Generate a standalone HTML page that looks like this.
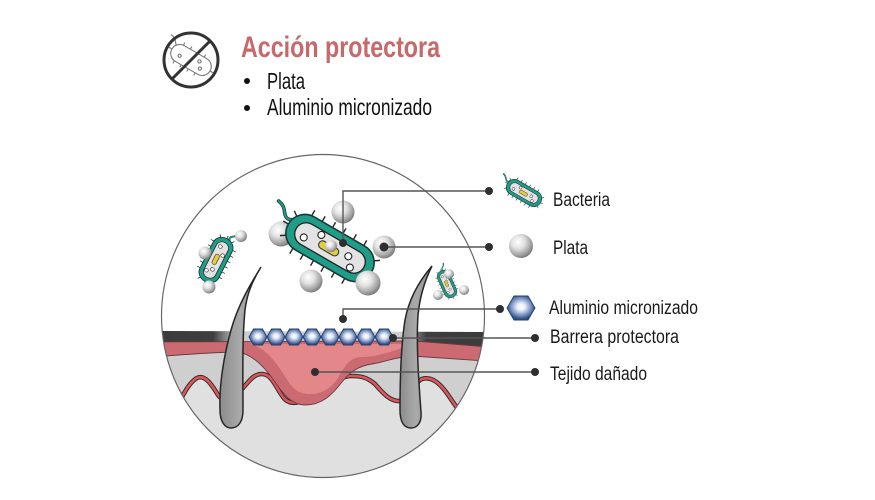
<!DOCTYPE html>
<html><head><meta charset="utf-8"><style>
html,body{margin:0;padding:0;background:#fff;}
svg{display:block;}
text{font-family:"Liberation Sans",sans-serif;}
</style></head><body>
<svg width="875" height="500" viewBox="0 0 875 500" xmlns="http://www.w3.org/2000/svg">
<defs>
  <clipPath id="cc"><circle cx="323" cy="316" r="161.5"/></clipPath>
  <radialGradient id="sph" cx="0.38" cy="0.34" r="0.68">
    <stop offset="0" stop-color="#ffffff"/>
    <stop offset="0.4" stop-color="#e2e2e2"/>
    <stop offset="0.8" stop-color="#a2a2a2"/>
    <stop offset="1" stop-color="#7a7a7a"/>
  </radialGradient>
  <radialGradient id="hexg" cx="0.5" cy="0.45" r="0.58">
    <stop offset="0" stop-color="#ffffff"/>
    <stop offset="0.25" stop-color="#e8eef8"/>
    <stop offset="0.6" stop-color="#7f96c2"/>
    <stop offset="0.85" stop-color="#36558b"/>
    <stop offset="1" stop-color="#223f70"/>
  </radialGradient>
  <linearGradient id="epi" gradientUnits="userSpaceOnUse" x1="150" y1="0" x2="500" y2="0">
    <stop offset="0" stop-color="#3a3a3a"/>
    <stop offset="0.18" stop-color="#3e3e3e"/>
    <stop offset="0.25" stop-color="#cdcdcd"/>
    <stop offset="0.72" stop-color="#cdcdcd"/>
    <stop offset="0.79" stop-color="#3e3e3e"/>
    <stop offset="1" stop-color="#3a3a3a"/>
  </linearGradient>
  <linearGradient id="hairg" x1="0" y1="0" x2="1" y2="0">
    <stop offset="0" stop-color="#8c8c8c"/>
    <stop offset="0.5" stop-color="#aaaaaa"/>
    <stop offset="1" stop-color="#8a8a8a"/>
  </linearGradient>
  <g id="bact">
    <path d="M -44,-8 C -50,-2 -54,-4 -57,-8 C -60,-12 -62,-14 -68,-15" fill="none" stroke="#1e3d38" stroke-width="3.6" stroke-linecap="round"/>
    <path d="M -44,-8 C -50,-2 -54,-4 -57,-8 C -60,-12 -62,-14 -68,-15" fill="none" stroke="#1f9d88" stroke-width="2" stroke-linecap="round"/>
    <g stroke="#222" stroke-width="1.4">
      <line x1="-32" y1="-19" x2="-32" y2="-25"/><line x1="-20" y1="-19" x2="-20" y2="-25"/>
      <line x1="-8" y1="-19" x2="-8" y2="-25"/><line x1="4" y1="-19" x2="4" y2="-25"/>
      <line x1="16" y1="-19" x2="16" y2="-25"/><line x1="28" y1="-19" x2="28" y2="-25"/>
      <line x1="-32" y1="19" x2="-32" y2="25"/><line x1="-20" y1="19" x2="-20" y2="25"/>
      <line x1="-8" y1="19" x2="-8" y2="25"/><line x1="4" y1="19" x2="4" y2="25"/>
      <line x1="16" y1="19" x2="16" y2="25"/><line x1="28" y1="19" x2="28" y2="25"/>
      <line x1="-48" y1="0" x2="-54" y2="0"/><line x1="-44.6" y1="10.9" x2="-49.5" y2="14.3"/>
      <line x1="-44.6" y1="-10.9" x2="-49.5" y2="-14.3"/>
      <line x1="48" y1="0" x2="54" y2="0"/><line x1="44.6" y1="10.9" x2="49.5" y2="14.3"/>
      <line x1="44.6" y1="-10.9" x2="49.5" y2="-14.3"/>
    </g>
    <rect x="-48" y="-19" width="96" height="38" rx="19" fill="#1f9d88" stroke="#1c3733" stroke-width="1.6"/>
    <rect x="-39" y="-11.5" width="78" height="23" rx="11.5" fill="#e3e3e3" stroke="#222" stroke-width="1.3"/>
    <rect x="-12" y="-3" width="22" height="8" rx="4" fill="#e5cd3a" stroke="#333" stroke-width="1.1"/>
    <g fill="#fff" stroke="#222" stroke-width="1.1">
      <circle cx="-28" cy="4" r="3.5"/><circle cx="-14" cy="-7" r="3.5"/>
      <circle cx="20" cy="-2" r="3.5"/><circle cx="27" cy="7" r="3.5"/>
    </g>
  </g>
</defs>

<!-- Header icon -->
<g transform="translate(191,60) rotate(30)" fill="none" stroke="#777" stroke-width="1.1">
  <rect x="-22" y="-9" width="44" height="18" rx="9"/>
  <line x1="-14" y1="-9" x2="-14" y2="-12"/><line x1="-6" y1="-9" x2="-6" y2="-12"/>
  <line x1="2" y1="-9" x2="2" y2="-12"/><line x1="10" y1="-9" x2="10" y2="-12"/>
  <line x1="-14" y1="9" x2="-14" y2="12"/><line x1="-6" y1="9" x2="-6" y2="12"/>
  <line x1="2" y1="9" x2="2" y2="12"/><line x1="10" y1="9" x2="10" y2="12"/>
  <line x1="-22" y1="0" x2="-26" y2="0"/><line x1="22" y1="0" x2="26" y2="0"/>
  <path d="M -20,-5 C -24,-10 -26,-12 -30,-12"/>
  <circle cx="-12" cy="2" r="1.6"/><circle cx="8" cy="-3" r="1.6"/><circle cx="12" cy="3" r="1.6"/>
</g>
<circle cx="191" cy="60" r="27" fill="none" stroke="#333" stroke-width="3"/>
<line x1="210" y1="41" x2="172" y2="79" stroke="#333" stroke-width="3"/>

<!-- Header text -->
<text x="241" y="57" font-size="30" font-weight="bold" fill="#c7696b" textLength="199" lengthAdjust="spacingAndGlyphs">Acción protectora</text>
<circle cx="247" cy="81" r="3" fill="#111"/>
<circle cx="247" cy="108" r="3" fill="#111"/>
<text x="267" y="89" font-size="23" fill="#111" textLength="38" lengthAdjust="spacingAndGlyphs">Plata</text>
<text x="267" y="115" font-size="23" fill="#111" textLength="165" lengthAdjust="spacingAndGlyphs">Aluminio micronizado</text>

<!-- Circle content -->
<g clip-path="url(#cc)">
  <rect x="150" y="150" width="350" height="340" fill="#fff"/>
  <rect x="150" y="342" width="350" height="150" fill="#cfcfcf"/>
  <path d="M 165,425 C 180,405 185,385 197,378 C 205,374 212,385 218,395 C 225,405 235,395 243,388 C 250,380 254,374 262,374 C 272,374 276,388 283,397 C 288,404 296,404 305,400 C 318,394 324,392 332,387 C 338,380 343,376 352,376 C 362,376 368,378 375,384 C 382,392 390,402 400,401 C 410,400 414,382 422,379 C 432,376 440,384 446,392 C 452,400 457,410 470,422 L 500,490 L 150,490 Z" fill="#e0e0e0"/>
  <path d="M 165,425 C 180,405 185,385 197,378 C 205,374 212,385 218,395 C 225,405 235,395 243,388 C 250,380 254,374 262,374 C 272,374 276,388 283,397 C 288,404 296,404 305,400 C 318,394 324,392 332,387 C 338,380 343,376 352,376 C 362,376 368,378 375,384 C 382,392 390,402 400,401 C 410,400 414,382 422,379 C 432,376 440,384 446,392 C 452,400 457,410 470,422" fill="none" stroke="#2f2f2f" stroke-width="4.6"/>
  <path d="M 165,425 C 180,405 185,385 197,378 C 205,374 212,385 218,395 C 225,405 235,395 243,388 C 250,380 254,374 262,374 C 272,374 276,388 283,397 C 288,404 296,404 305,400 C 318,394 324,392 332,387 C 338,380 343,376 352,376 C 362,376 368,378 375,384 C 382,392 390,402 400,401 C 410,400 414,382 422,379 C 432,376 440,384 446,392 C 452,400 457,410 470,422" fill="none" stroke="#e0555a" stroke-width="2.6"/>
  <!-- epidermis top band -->
  <path d="M150,331 L500,332 L500,348 L415,341 L150,342 Z" fill="url(#epi)"/>
  <!-- red band + damaged outer -->
  <path d="M 150,342 L 415,341 L 500,348 L 500,362 C 470,360 440,358 412,356 C 395,357 385,362 372,364 C 358,366 350,372 342,382 C 332,395 322,405 305,405 C 292,405 284,395 275,382 C 264,366 252,354 238,352 C 215,352 180,355 150,357 Z" fill="#cc6a71" stroke="#6a3b3f" stroke-width="0.9"/>
  <!-- damaged inner -->
  <path d="M 250,344 L 412,344 C 402,348 394,351 386,353 C 376,356 368,357 360,357 C 350,358 345,365 338,378 C 330,390 320,394 310,394 C 298,394 292,388 286,378 C 276,362 266,348 250,344 Z" fill="#e4878b"/>
  <!-- hexagons -->
  <g fill="url(#hexg)" stroke="#223f70" stroke-width="0.9">
    <polygon points="249,337 253.5,329 262.5,329 267,337 262.5,345 253.5,345"/>
    <polygon points="267,337 271.5,329 280.5,329 285,337 280.5,345 271.5,345"/>
    <polygon points="285,337 289.5,329 298.5,329 303,337 298.5,345 289.5,345"/>
    <polygon points="303,337 307.5,329 316.5,329 321,337 316.5,345 307.5,345"/>
    <polygon points="321,337 325.5,329 334.5,329 339,337 334.5,345 325.5,345"/>
    <polygon points="339,337 343.5,329 352.5,329 357,337 352.5,345 343.5,345"/>
    <polygon points="357,337 361.5,329 370.5,329 375,337 370.5,345 361.5,345"/>
    <polygon points="375,337 379.5,329 388.5,329 393,337 388.5,345 379.5,345"/>
  </g>
  <!-- hairs -->
  <path d="M 261,267 C 250,285 238,305 231,330 C 224,355 219,385 220,410 C 220,422 225,428 231,428 C 238,428 243,422 243,410 C 243,380 242,340 245,310 C 247,293 253,280 261,267 Z" fill="url(#hairg)" stroke="#262626" stroke-width="1.5"/>
  <path d="M 432,266 C 425,280 420,295 418,315 C 416,345 419,385 421,412 C 422,423 417,428 411,428 C 404,428 400,422 400,410 C 400,380 401,345 405,320 C 409,298 420,280 432,266 Z" fill="url(#hairg)" stroke="#262626" stroke-width="1.5"/>

  <!-- small bacteria -->
  <use href="#bact" transform="translate(216,260) rotate(117) scale(0.5,0.56)"/>
  <circle cx="241" cy="236" r="6" fill="url(#sph)"/>
  <circle cx="205" cy="253" r="6.5" fill="url(#sph)"/>
  <circle cx="209" cy="287" r="6.5" fill="url(#sph)"/>
  <use href="#bact" transform="translate(447,284) rotate(66) scale(0.3,0.34)"/>
  <circle cx="449" cy="274" r="5" fill="url(#sph)"/>
  <circle cx="438" cy="295" r="5" fill="url(#sph)"/>
  <circle cx="464" cy="290" r="5" fill="url(#sph)"/>

  <!-- big bacterium + spheres -->
  <circle cx="343" cy="212" r="11.5" fill="url(#sph)"/>
  <circle cx="281" cy="234" r="12.5" fill="url(#sph)"/>
  <use href="#bact" transform="translate(330,248) rotate(30)"/>
  <circle cx="331" cy="246" r="6" fill="url(#sph)"/>
  <circle cx="311" cy="281" r="11.5" fill="url(#sph)"/>
  <circle cx="368" cy="283" r="12.5" fill="url(#sph)"/>
  <circle cx="384" cy="247" r="11.5" fill="url(#sph)"/>
</g>
<circle cx="323" cy="316" r="161.5" fill="none" stroke="#666" stroke-width="1.2"/>

<!-- connectors -->
<g stroke="#555" stroke-width="1.4" fill="none">
  <polyline points="343,243 343,191 489,191"/>
  <line x1="384" y1="247" x2="489" y2="247"/>
  <polyline points="343,319 343,309 500,309"/>
  <line x1="393" y1="338" x2="535" y2="338"/>
  <line x1="315" y1="372" x2="535" y2="372"/>
</g>
<g fill="#2f2f2f">
  <circle cx="343" cy="243" r="4"/><circle cx="489" cy="191" r="4"/>
  <circle cx="384" cy="247" r="4.5"/><circle cx="489" cy="247" r="4"/>
  <circle cx="343" cy="319" r="4"/><circle cx="500" cy="309" r="4"/>
  <circle cx="393" cy="338" r="4"/><circle cx="535" cy="338" r="4"/>
  <circle cx="315" cy="372" r="4"/><circle cx="535" cy="372" r="4"/>
</g>

<!-- legend icons -->
<use href="#bact" transform="translate(524,193) rotate(30) scale(0.4,0.42)"/>
<circle cx="521" cy="246" r="12" fill="url(#sph)"/>
<polygon points="507,308 514,296 528,296 535,308 528,320 514,320" fill="url(#hexg)" stroke="#223f70" stroke-width="0.9"/>

<!-- legend labels -->
<g font-size="19" fill="#1a1a1a">
  <text x="553" y="206" textLength="57" lengthAdjust="spacingAndGlyphs">Bacteria</text>
  <text x="553" y="254" textLength="35" lengthAdjust="spacingAndGlyphs">Plata</text>
  <text x="549" y="314" textLength="149" lengthAdjust="spacingAndGlyphs">Aluminio micronizado</text>
  <text x="550" y="343" textLength="129" lengthAdjust="spacingAndGlyphs">Barrera protectora</text>
  <text x="550" y="380" textLength="97" lengthAdjust="spacingAndGlyphs">Tejido dañado</text>
</g>
</svg>
</body></html>
